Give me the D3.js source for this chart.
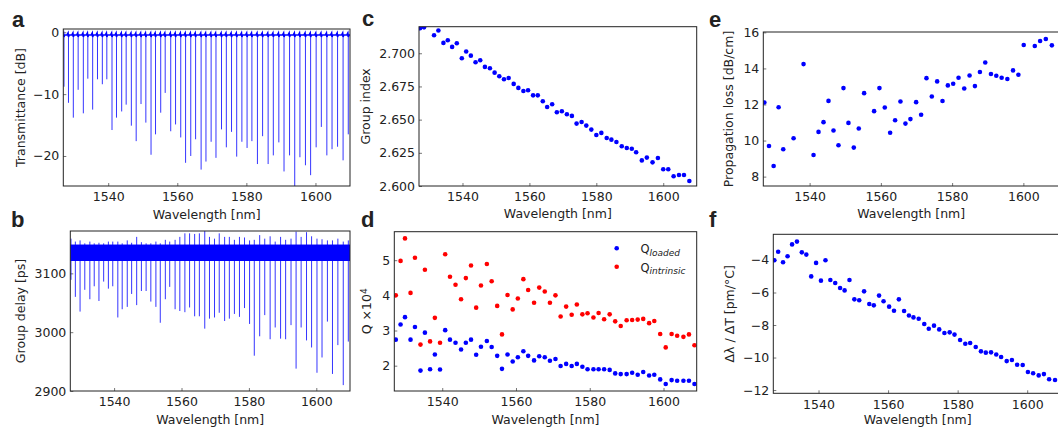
<!DOCTYPE html>
<html>
<head>
<meta charset="utf-8">
<script src="https://cdn.jsdelivr.net/npm/d3@7"></script>
<style>
  body { margin: 0; background: #fff; }
  svg { display: block; }
  text { font-family: "DejaVu Sans", sans-serif; fill: #222; }
</style>
</head>
<body>
<svg id="fig" width="1058" height="433"></svg>
<script>
// ---- panels a, b : resonance dips of the transmission / group delay traces
var dipWavelengths = [1527.2,1528.5,1529.9,1531.3,1532.8,1534.1,1535.5,1536.9,1538.3,1539.6,1541.1,1542.4,1543.9,1545.2,1546.7,1548.1,1549.5,1550.9,1552.4,1553.7,1555.2,1556.5,1558.1,1559.5,1561.0,1562.4,1563.9,1565.3,1566.9,1568.3,1569.8,1571.2,1572.8,1574.2,1575.7,1577.2,1578.7,1580.2,1581.6,1583.2,1584.7,1586.3,1587.8,1589.4,1590.9,1592.5,1594.0,1595.5,1597.1,1598.6,1600.2,1601.7,1603.3,1604.8,1606.4,1608.0,1609.5];
var dipDepthsDb = [-8.8,-11.4,-13.8,-9.3,-13.1,-7.5,-12.5,-7.6,-8.4,-7.6,-15.8,-13.8,-12.8,-11.7,-15.1,-17.6,-11.6,-14.6,-19.8,-16.5,-13.0,-9.8,-16.0,-14.9,-17.0,-21.1,-20.0,-17.3,-22.2,-20.9,-17.7,-20.3,-15.7,-18.6,-16.1,-20.1,-17.7,-18.7,-17.6,-21.3,-16.8,-21.3,-19.9,-17.8,-22.5,-19.9,-26.0,-20.2,-21.5,-23.1,-18.6,-15.3,-19.9,-18.9,-18.5,-20.7,-16.5];
var baselineDb = -0.45, shoulderDb = -0.1;
var dipDelaysPs = [3089,3060,3035,3072,3056,3078,3053,3086,3074,3078,3025,3039,3043,3065,3046,3070,3070,3052,3043,3016,3056,3077,3039,3036,3034,3042,3027,3027,3006,3023,3025,3033,3019,3023,3031,3026,3041,3014,2960,2993,3029,2988,3008,2989,2988,3012,2938,3008,2986,2974,2931,2957,3018,2929,2978,2910,2984];
var spikeDelaysPs = [3159,3154,3156,3151,3154,3151,3152,3151,3154,3154,3154,3151,3156,3152,3162,3153,3151,3151,3154,3151,3157,3154,3157,3162,3168,3168,3167,3168,3172,3162,3159,3168,3162,3162,3157,3162,3161,3156,3157,3165,3159,3163,3154,3162,3157,3159,3171,3162,3170,3163,3159,3158,3156,3156,3159,3154,3156];
var delayBandPs = [3121, 3149];

// ---- panel c : group index
var lambdaC = [1527.3,1528.5,1531.5,1532.8,1534.3,1535.6,1536.9,1538.3,1539.8,1541.1,1542.5,1543.9,1545.3,1546.7,1548.2,1549.6,1551.0,1552.4,1553.8,1555.3,1556.7,1558.2,1559.6,1561.1,1562.5,1564.0,1565.3,1566.8,1568.2,1569.7,1571.2,1572.7,1574.1,1575.6,1577.0,1578.5,1580.0,1581.5,1583.1,1584.5,1586.0,1587.6,1589.1,1590.6,1591.9,1593.6,1595.1,1596.8,1598.4,1600.0,1601.5,1603.1,1604.7,1606.2,1607.8];
var groupIndex = [2.7188,2.7195,2.7136,2.7171,2.7078,2.7098,2.7048,2.7075,2.6962,2.7013,2.6982,2.6932,2.6947,2.6897,2.6887,2.6854,2.6827,2.6804,2.6814,2.6769,2.6739,2.6716,2.6721,2.6683,2.6683,2.6638,2.6595,2.6616,2.6555,2.6563,2.6540,2.6528,2.6470,2.6482,2.6455,2.6425,2.6384,2.6400,2.6362,2.6349,2.6332,2.6299,2.6286,2.6281,2.6254,2.6193,2.6214,2.6178,2.6211,2.6126,2.6126,2.6073,2.6083,2.6083,2.6038];

// ---- panel d : quality factors (x 10^4)
var lambdaD = [1527.4,1528.7,1529.9,1531.4,1532.6,1534.1,1535.3,1536.7,1538.0,1539.4,1540.8,1542.1,1543.6,1545.1,1546.4,1547.8,1549.2,1550.5,1552.1,1553.4,1554.9,1556.2,1557.7,1559.1,1560.5,1562.0,1563.3,1564.9,1566.3,1567.8,1569.2,1570.7,1572.1,1573.6,1575.1,1576.5,1578.0,1579.4,1581.0,1582.4,1583.9,1585.4,1586.9,1588.4,1590.0,1591.5,1593.0,1594.5,1596.1,1597.5,1599.1,1600.6,1602.2,1603.7,1605.4,1606.9,1608.4];
var qLoaded = [2.74,3.17,3.38,2.74,3.10,1.86,2.94,1.90,2.32,1.89,3.01,2.74,2.65,2.46,2.65,2.74,2.31,2.54,2.70,2.53,2.28,1.91,2.32,2.12,2.24,2.41,2.28,2.15,2.27,2.24,2.14,2.19,1.99,2.05,1.99,2.05,1.97,1.90,1.90,1.90,1.90,1.88,1.78,1.76,1.76,1.80,1.74,1.82,1.72,1.74,1.61,1.48,1.59,1.57,1.57,1.57,1.48];
var qIntrinsic = [4.00,4.98,5.62,4.07,5.07,2.60,4.73,2.69,3.36,2.65,5.17,4.53,4.30,3.89,4.49,4.85,3.65,4.28,4.89,4.40,3.70,2.89,4.01,3.60,3.91,4.46,4.15,3.79,4.22,4.11,3.79,4.00,3.40,3.68,3.45,3.74,3.46,3.49,3.37,3.50,3.32,3.46,3.26,3.13,3.29,3.30,3.31,3.33,3.21,3.27,2.90,2.52,2.90,2.85,2.82,2.89,2.58];

// ---- panel e : propagation loss
var lambdaE = [1527.3,1528.6,1529.9,1531.3,1532.6,1535.5,1538.3,1541.1,1542.5,1543.9,1545.3,1546.7,1548.1,1549.5,1550.9,1552.4,1553.8,1555.3,1558.1,1559.6,1561.1,1562.6,1564.0,1565.5,1566.9,1568.3,1569.9,1571.3,1572.8,1574.3,1575.8,1577.3,1578.8,1580.3,1581.8,1583.4,1584.9,1586.4,1587.8,1589.3,1590.9,1592.4,1593.9,1595.5,1597.1,1598.6,1600.1,1603.2,1604.7,1606.3,1608.0];
var lossDbPerCm = [12.11,9.70,8.59,11.85,9.52,10.13,14.24,9.20,10.48,11.02,12.20,10.56,9.74,12.91,10.98,9.61,10.67,12.63,11.63,12.91,11.83,10.43,11.13,12.17,10.94,11.19,12.13,11.43,13.46,12.44,13.28,12.19,13.06,13.15,13.48,12.89,13.61,13.02,13.80,14.33,13.69,13.59,13.48,13.41,13.89,13.65,15.30,15.24,15.52,15.63,15.28];

// ---- panel f : thermal tuning
var lambdaF = [1527.3,1528.4,1529.8,1531.1,1532.4,1533.8,1535.2,1536.5,1537.9,1539.3,1540.7,1542.0,1543.4,1544.8,1546.2,1547.5,1548.9,1550.3,1551.7,1553.1,1554.6,1555.9,1557.4,1558.7,1560.3,1561.7,1563.1,1564.6,1566.0,1567.3,1568.8,1570.4,1571.7,1573.2,1574.7,1576.2,1577.7,1579.1,1580.7,1582.2,1583.6,1585.2,1586.7,1588.1,1589.6,1591.1,1592.5,1594.1,1595.6,1597.1,1598.7,1600.2,1601.7,1603.3,1604.8,1606.3,1608.0];
var tuningPmPerC = [-4.02,-3.49,-4.14,-3.77,-3.04,-2.87,-3.53,-3.67,-5.01,-4.18,-5.27,-4.02,-5.23,-5.42,-5.72,-5.87,-5.23,-6.42,-6.48,-5.93,-6.71,-6.79,-6.19,-6.54,-6.87,-7.12,-6.42,-7.14,-7.41,-7.53,-7.61,-7.94,-8.23,-8.04,-8.27,-8.49,-8.45,-8.59,-8.92,-9.15,-9.11,-9.35,-9.62,-9.70,-9.68,-9.81,-9.97,-10.22,-10.15,-10.44,-10.46,-10.89,-10.97,-11.10,-11.02,-11.34,-11.38];

// ---- ticks
var wavelengthTicks = [1540, 1560, 1580, 1600];
var transmittanceTicks = [0, -10, -20];
var delayTicks = [2900, 3000, 3100];
var indexTicks = [2.600, 2.625, 2.650, 2.675, 2.700];
var qTicks = [2, 3, 4, 5];
var lossTicks = [8, 10, 12, 14, 16];
var tuningTicks = [-4, -6, -8, -10, -12];

var blue = '#0000ff', red = '#ff0000', fontSize = '12.5px';
var svg = d3.select('#fig');

// frame, scales, axes and labels for one panel
function makePanel(p) {
    var x = d3.scaleLinear().domain(p.xDomain).range([p.x0, p.x1]);
    var y = d3.scaleLinear().domain(p.yDomain).range([p.y1, p.y0]);

    svg.append('clipPath').attr('id', 'clip-' + p.id)
        .append('rect')
        .attr('x', p.x0).attr('y', p.y0)
        .attr('width', p.x1 - p.x0).attr('height', p.y1 - p.y0);

    var xAxis = svg.append('g')
        .attr('transform', 'translate(0,' + p.y1 + ')')
        .call(d3.axisBottom(x).tickValues(wavelengthTicks).tickFormat(d3.format('d'))
            .tickSizeInner(-3).tickSizeOuter(0).tickPadding(6.5));
    var yAxis = svg.append('g')
        .attr('transform', 'translate(' + p.x0 + ',0)')
        .call(d3.axisLeft(y).tickValues(p.yTicks).tickFormat(p.yFormat || d3.format('d'))
            .tickSizeInner(-3).tickSizeOuter(0).tickPadding(p.yPad || 4));
    [xAxis, yAxis].forEach(function(ax) {
        ax.attr('font-family', null).attr('font-size', fontSize);
        ax.select('.domain').remove();
        ax.selectAll('.tick line').attr('stroke', '#777');
        ax.selectAll('.tick text').attr('fill', '#222');
    });

    var plot = svg.append('g').attr('clip-path', 'url(#clip-' + p.id + ')');

    svg.append('rect')
        .attr('x', p.x0).attr('y', p.y0)
        .attr('width', p.x1 - p.x0).attr('height', p.y1 - p.y0)
        .attr('fill', 'none').attr('stroke', '#222').attr('stroke-width', 1);

    svg.append('text')
        .attr('x', (p.x0 + p.x1) / 2).attr('y', p.xLabelY)
        .attr('text-anchor', 'middle').style('font-size', fontSize)
        .text('Wavelength [nm]');

    var yl = svg.append('text')
        .attr('transform', 'translate(' + p.yLabelX + ',' + ((p.y0 + p.y1) / 2) + ') rotate(-90)')
        .attr('text-anchor', 'middle').style('font-size', fontSize);
    if (p.yLabelParts) {
        p.yLabelParts.forEach(function(part) {
            var t = yl.append('tspan').text(part.text);
            if (part.sup) t.attr('baseline-shift', '40%').style('font-size', '9px');
        });
    } else {
        yl.text(p.yLabel);
    }

    svg.append('text')
        .attr('x', p.letterX).attr('y', p.letterY)
        .style('font-family', '"Liberation Sans", Arial, sans-serif')
        .style('font-weight', 'bold').style('font-size', '22px')
        .attr('fill', '#000')
        .text(p.id);

    return { x: x, y: y, plot: plot };
}

function dots(panel, xs, ys, color) {
    var pts = xs.map(function(v, i) { return [v, ys[i]]; });
    panel.plot.selectAll(null)
        .data(pts)
        .enter()
        .append('circle')
        .attr('cx', function(d) { return panel.x(d[0]); })
        .attr('cy', function(d) { return panel.y(d[1]); })
        .attr('r', 2.3)
        .attr('fill', color);
}

// thin vertical lines for the resonance dips
function dipLines(panel, tops, bottoms) {
    panel.plot.selectAll(null)
        .data(dipWavelengths)
        .enter()
        .append('line')
        .attr('x1', function(d) { return panel.x(d); })
        .attr('x2', function(d) { return panel.x(d); })
        .attr('y1', function(d, i) { return panel.y(tops[i]); })
        .attr('y2', function(d, i) { return panel.y(bottoms[i]); })
        .attr('stroke', blue).attr('stroke-width', 0.8);
}

// a: transmittance
var pa = makePanel({ id: 'a', x0: 63.3, x1: 350, y0: 29, y1: 186,
    xDomain: [1527, 1610], yDomain: [-24.85, 0.53], yTicks: transmittanceTicks,
    yLabel: 'Transmittance [dB]', yLabelX: 24.5, xLabelY: 218.5, letterX: 12, letterY: 26.5 });
var baseA = [[1526, baselineDb]];
dipWavelengths.forEach(function(w) {
    baseA.push([w - 0.45, baselineDb], [w - 0.12, shoulderDb], [w, baselineDb - 0.3], [w + 0.2, baselineDb]);
});
baseA.push([1611, baselineDb]);
pa.plot.append('path')
    .attr('d', d3.line().x(function(d) { return pa.x(d[0]); }).y(function(d) { return pa.y(d[1]); })(baseA))
    .attr('fill', 'none').attr('stroke', blue).attr('stroke-width', 1.6);
dipLines(pa, dipWavelengths.map(function() { return baselineDb; }), dipDepthsDb);

// b: group delay
var pb = makePanel({ id: 'b', x0: 70.3, x1: 350, y0: 231, y1: 391,
    xDomain: [1527, 1610], yDomain: [2900, 3172], yTicks: delayTicks,
    yLabel: 'Group delay [ps]', yLabelX: 24.5, xLabelY: 424, letterX: 11, letterY: 226.5 });
pb.plot.append('rect')
    .attr('x', pb.x(1527)).attr('y', pb.y(delayBandPs[1]))
    .attr('width', pb.x(1610) - pb.x(1527))
    .attr('height', pb.y(delayBandPs[0]) - pb.y(delayBandPs[1]))
    .attr('fill', blue);
dipLines(pb, spikeDelaysPs, dipDelaysPs);

// c: group index
var pc = makePanel({ id: 'c', x0: 419, x1: 696.7, y0: 26.7, y1: 186,
    xDomain: [1527, 1610], yDomain: [2.6, 2.72], yTicks: indexTicks, yFormat: d3.format('.3f'),
    yLabel: 'Group index', yLabelX: 369.5, xLabelY: 218, letterX: 362, letterY: 26 });
dots(pc, lambdaC, groupIndex, blue);

// d: Q factors
var pd = makePanel({ id: 'd', x0: 394.3, x1: 696.7, y0: 231.7, y1: 391,
    xDomain: [1527, 1609], yDomain: [1.28, 5.81], yTicks: qTicks,
    yLabelParts: [{ text: 'Q \u00d710' }, { text: '4', sup: true }],
    yLabelX: 371, xLabelY: 424, letterX: 361, letterY: 226.5 });
dots(pd, lambdaD, qLoaded, blue);
dots(pd, lambdaD, qIntrinsic, red);

var legend = [
    { color: blue, sub: 'loaded', y: 248.3 },
    { color: red, sub: 'intrinsic', y: 266.7 }
];
legend.forEach(function(l) {
    svg.append('circle').attr('cx', 616.7).attr('cy', l.y).attr('r', 2.3).attr('fill', l.color);
    var t = svg.append('text').attr('x', 640.5).attr('y', l.y + 4.8).style('font-size', '11.5px');
    t.append('tspan').text('Q');
    t.append('tspan').attr('dy', 2.5).style('font-size', '9px').style('font-style', 'italic').text(l.sub);
});

// e: propagation loss
var pe = makePanel({ id: 'e', x0: 763.3, x1: 1059, y0: 32, y1: 186,
    xDomain: [1527, 1610], yDomain: [7.48, 16.02], yTicks: lossTicks,
    yLabel: 'Propagation loss [dB/cm]', yLabelX: 732.5, xLabelY: 218, letterX: 709, letterY: 26.5 });
dots(pe, lambdaE, lossDbPerCm, blue);

// f: resonance shift with temperature
var pf = makePanel({ id: 'f', x0: 773.3, x1: 1062, y0: 234.3, y1: 393.3,
    xDomain: [1527, 1610], yDomain: [-12.2, -2.42], yTicks: tuningTicks,
    yLabel: '\u0394\u03bb / \u0394T [pm/\u00b0C]', yLabelX: 734, xLabelY: 424, letterX: 709, letterY: 226.5 });
dots(pf, lambdaF, tuningPmPerC, blue);
</script>
</body>
</html>
